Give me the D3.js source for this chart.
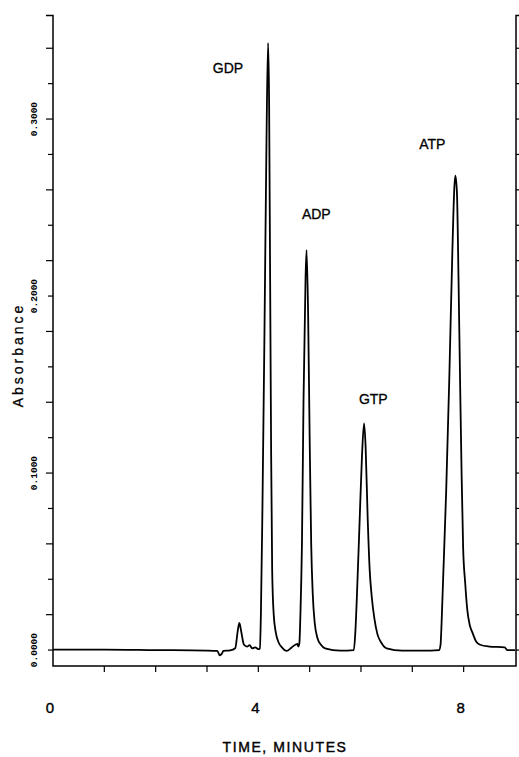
<!DOCTYPE html>
<html><head><meta charset="utf-8">
<script src="https://cdn.jsdelivr.net/npm/d3@7"></script>
<style>
html,body{margin:0;padding:0;background:#fff;}
text{font-family:"Liberation Sans",Arial,sans-serif;fill:#000;}
</style></head>
<body><svg id="c" width="519" height="757"></svg>
<script>
// ---- data ----
const traceTime = [0,1,2,3,3.2,3.25,3.29,3.32,3.45,3.55,3.6,3.63,3.67,3.72,3.78,3.83,3.88,3.94,4.0,
  4.03,4.05,4.08,4.12,4.16,4.19,4.21,4.23,4.25,4.27,4.30,4.34,4.40,4.46,4.55,4.65,4.72,4.76,4.78,
  4.80,4.82,4.85,4.88,4.92,4.94,4.97,5.00,5.03,5.06,5.10,5.15,5.22,5.30,5.6,5.86,
  5.89,5.92,5.97,6.02,6.06,6.09,6.13,6.17,6.21,6.26,6.32,6.40,6.50,6.8,7.2,7.52,
  7.55,7.57,7.60,7.66,7.72,7.78,7.82,7.84,7.87,7.90,7.93,7.96,7.99,8.03,8.07,8.12,8.17,8.24,8.32,
  8.5,8.8,8.85,9.0];
const traceAbs = [0.0003,0.0003,0.0,-0.0003,-0.0005,-0.003,-0.002,-0.0005,-0.0002,0.001,0.011,0.0153,0.010,0.003,0.002,0.0028,0.001,0.0015,0.0005,
  0.001,0.02,0.08,0.18,0.29,0.343,0.31,0.21,0.11,0.045,0.02,0.01,0.004,0.0015,-0.0005,0.0015,0.003,0.0035,0.002,
  0.004,0.02,0.06,0.14,0.21,0.226,0.19,0.12,0.06,0.032,0.015,0.007,0.003,0.001,-0.0003,0.0,
  0.01,0.03,0.07,0.11,0.128,0.115,0.075,0.045,0.03,0.018,0.009,0.004,0.001,-0.0003,-0.0003,0.0,
  0.003,0.015,0.04,0.09,0.153,0.225,0.262,0.268,0.258,0.21,0.153,0.10,0.058,0.038,0.023,0.014,0.01,0.005,0.003,
  0.002,0.0015,0.0,0.0];
const peakNames = ["GDP","ADP","GTP","ATP"];
const peakLabelTime = [3.41,5.13,6.24,7.39];
const peakLabelAbs = [0.3288,0.2463,0.1418,0.2859];
const xTickLabels = [0,4,8];
const xMinorTicks = [1,2,3,4,5,6,7,8];
const yTickLabels = [0.0,0.1,0.2,0.3];
const yTickLabelText = ["0.0000","0.1000","0.2000","0.3000"];
const yMinorTicks = d3.range(0,18).map(i=>+(i*0.02).toFixed(2));

// ---- layout ----
const svg = d3.select("#c");
const x = d3.scaleLinear().domain([0,9.02]).range([53,516]);
const y = d3.scaleLinear().domain([-0.009,0.3585]).range([666,15.5]);
const x0 = x(0), x1 = x(9.02), yb = y(-0.009), yt = y(0.3585);

const frame = svg.append("g").attr("stroke","#000").attr("stroke-width",1.5).attr("fill","none");
frame.append("path").attr("d",`M${x0-7},${yt}H${x0}V${yb}H${x1}V${yt}H${x1+3}`);

// left axis ticks (pointing left)
svg.append("g").selectAll("line").data(yMinorTicks).join("line")
  .attr("x1",x0).attr("x2",(d,i)=>x0-(i%2?7:5))
  .attr("y1",d=>y(d)).attr("y2",d=>y(d))
  .attr("stroke","#000").attr("stroke-width",1.2);
// right axis ticks (pointing right)
svg.append("g").selectAll("line").data(yMinorTicks).join("line")
  .attr("x1",x1).attr("x2",x1+3)
  .attr("y1",d=>y(d)).attr("y2",d=>y(d))
  .attr("stroke","#000").attr("stroke-width",1.2);
// bottom ticks
svg.append("g").selectAll("line").data(xMinorTicks).join("line")
  .attr("x1",d=>x(d)).attr("x2",d=>x(d))
  .attr("y1",yb).attr("y2",yb+6)
  .attr("stroke","#000").attr("stroke-width",1.2);

// x tick labels
svg.append("g").selectAll("text").data(xTickLabels).join("text")
  .attr("x",d=>x(d)-3).attr("y",713)
  .attr("text-anchor","middle").attr("font-size",15)
  .attr("stroke","#000").attr("stroke-width",0.4).text(d=>d);

// y tick labels rotated
svg.append("g").selectAll("text").data(yTickLabels).join("text")
  .attr("transform",d=>`translate(37,${y(d)}) rotate(-90)`)
  .attr("text-anchor","middle")
  .style("font-family","'Liberation Mono',monospace").attr("font-weight","bold")
  .attr("font-size",9.5).text((d,i)=>yTickLabelText[i]);

// axis titles
svg.append("text").attr("transform","translate(23,355) rotate(-90)")
  .attr("text-anchor","middle").attr("font-size",14).style("letter-spacing","3px")
  .attr("stroke","#000").attr("stroke-width",0.3).text("Absorbance");
svg.append("text").attr("x",285).attr("y",752).attr("text-anchor","middle")
  .attr("font-size",14).style("letter-spacing","1.6px")
  .attr("stroke","#000").attr("stroke-width",0.4).text("TIME, MINUTES");

// trace
const pts = traceTime.map((t,i)=>[t,traceAbs[i]]);
svg.append("path").datum(pts)
  .attr("d",d3.line().x(d=>x(d[0])).y(d=>y(d[1])).curve(d3.curveMonotoneX))
  .attr("fill","none").attr("stroke","#000").attr("stroke-width",1.8).attr("stroke-linejoin","round");

// peak labels
svg.append("g").selectAll("text").data(peakNames).join("text")
  .attr("x",(d,i)=>x(peakLabelTime[i])).attr("y",(d,i)=>y(peakLabelAbs[i]))
  .attr("dy","0.36em").attr("text-anchor","middle").attr("font-size",14)
  .attr("stroke","#000").attr("stroke-width",0.3).text(d=>d);
</script></body></html>
